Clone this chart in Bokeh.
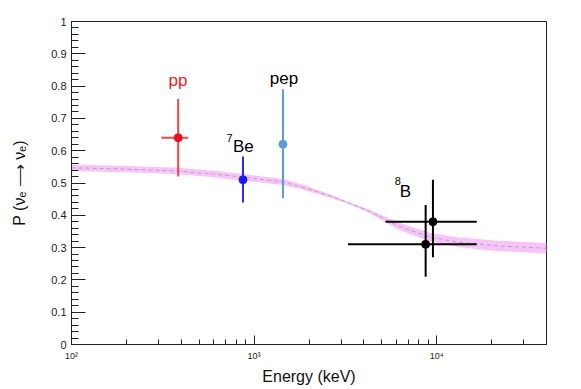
from bokeh.plotting import figure
from bokeh.models import FixedTicker, ColumnDataSource
from bokeh.core.properties import value
from bokeh.embed import file_html
from bokeh.resources import INLINE

# ---- data ----
band_energy = [100, 200, 383, 600, 870, 1440, 1780, 2600, 3350, 4300, 5200, 6300, 9150, 13300, 21900, 40000]
band_center = [0.547, 0.543, 0.537, 0.528, 0.518, 0.503, 0.490, 0.460, 0.437, 0.412, 0.388, 0.365, 0.333, 0.316, 0.305, 0.298]
band_halfwidth = [0.010, 0.010, 0.010, 0.010, 0.010, 0.009, 0.008, 0.005, 0.003, 0.005, 0.008, 0.011, 0.013, 0.015, 0.016, 0.016]

point_names = ["pp", "7Be", "pep", "8B_a", "8B_b"]
point_energy = [384, 870, 1440, 9550, 8710]
point_prob = [0.64, 0.51, 0.62, 0.38, 0.31]
point_prob_lo = [0.52, 0.44, 0.453, 0.27, 0.21]
point_prob_hi = [0.76, 0.582, 0.79, 0.51, 0.432]
point_energy_lo = [310, 870, 1440, 5250, 3270]
point_energy_hi = [437, 870, 1440, 16600, 16600]
point_colors = ["#e8141c", "#1a1aff", "#5a9bd8", "#000000", "#000000"]
bar_colors = ["#f04848", "#2a2aff", "#5a9bd8", "#000000", "#000000"]

x_major_ticks = [100, 1000, 10000]
x_minor_ticks = [200, 300, 400, 500, 600, 700, 800, 900,
                 2000, 3000, 4000, 5000, 6000, 7000, 8000, 9000, 20000, 30000, 40000]
x_tick_labels = ["10\u00b2", "10\u00b3", "10\u2074"]
y_major_ticks = [0.0, 0.1, 0.2, 0.3, 0.4, 0.5, 0.6, 0.7, 0.8, 0.9, 1.0]
y_tick_labels = ["0", "0.1", "0.2", "0.3", "0.4", "0.5", "0.6", "0.7", "0.8", "0.9", "1"]
y_minor_ticks = [round(0.02 * i, 2) for i in range(51)]

font = "Liberation Sans"

p = figure(width=581, height=389, x_axis_type="log", x_range=(100, 40000), y_range=(0, 1),
           output_backend="svg", toolbar_location=None,
           min_border_left=71, min_border_right=35, min_border_top=21, min_border_bottom=45)
p.grid.visible = False
p.outline_line_color = "#222222"
p.outline_line_width = 1

# band
lower = [c - h for c, h in zip(band_center, band_halfwidth)]
upper = [c + h for c, h in zip(band_center, band_halfwidth)]
p.varea(x=band_energy, y1=lower, y2=upper, fill_color="#f6c4f6", fill_alpha=1.0)
p.line(band_energy, band_center, line_color="#c49ad0", line_width=1, line_dash="4 3")

# error bars
src = ColumnDataSource(dict(name=point_names, e=point_energy, pr=point_prob,
                            plo=point_prob_lo, phi=point_prob_hi,
                            elo=point_energy_lo, ehi=point_energy_hi,
                            c=point_colors, bc=bar_colors))
p.segment(x0="e", y0="plo", x1="e", y1="phi", line_color="bc", line_width=2, source=src)
p.segment(x0="elo", y0="pr", x1="ehi", y1="pr", line_color="bc", line_width=2, source=src)
p.scatter(x="e", y="pr", size=8, fill_color="c", line_color="c", source=src)

# labels
def label(x, y, t, color, size, align="left"):
    p.text(x=[x], y=[y], text=[t], text_color=color, text_font=value(font),
           text_font_size=size, text_align=align, text_baseline="alphabetic")

label(383, 0.817, "pp", "#ee1c1c", "17px", "center")
label(1460, 0.823, "pep", "#000000", "17px", "center")
label(707, 0.638, "7", "#000000", "11px")
label(767, 0.613, "Be", "#000000", "17px")
label(5890, 0.506, "8", "#000000", "11px")
label(6280, 0.475, "B", "#000000", "17px")

# axes
xa = p.xaxis[0]
xa.ticker = FixedTicker(ticks=x_major_ticks, minor_ticks=x_minor_ticks)
xa.major_label_overrides = {float(t): l for t, l in zip(x_major_ticks, x_tick_labels)}
xa.axis_label = "Energy (keV)"
ya = p.yaxis[0]
ya.ticker = FixedTicker(ticks=y_major_ticks, minor_ticks=y_minor_ticks)
ya.major_label_overrides = {t: l for t, l in zip(y_major_ticks, y_tick_labels)}
ya.axis_label = "P (\u03bd\u2091 \u27f6 \u03bd\u2091)"

for ax in (xa, ya):
    ax.axis_line_color = "#222222"
    ax.major_tick_line_color = "#222222"
    ax.minor_tick_line_color = "#222222"
    ax.major_tick_out = 0
    ax.minor_tick_out = 0
    ax.major_label_text_font = font
    ax.axis_label_text_font = font
    ax.axis_label_text_font_style = "normal"
    ax.axis_label_text_color = "#111111"
    ax.major_label_text_color = "#222222"
    ax.axis_label_text_font_size = "16px"

xa.major_tick_in = 9
xa.minor_tick_in = 5
xa.major_label_text_font_size = "9px"
xa.major_label_standoff = 6
xa.axis_label_standoff = 4
ya.major_tick_in = 14
ya.minor_tick_in = 7
ya.major_label_text_font_size = "11px"
ya.major_label_standoff = 5
ya.axis_label_standoff = 20

open("out.html", "w").write(file_html(p, INLINE))
